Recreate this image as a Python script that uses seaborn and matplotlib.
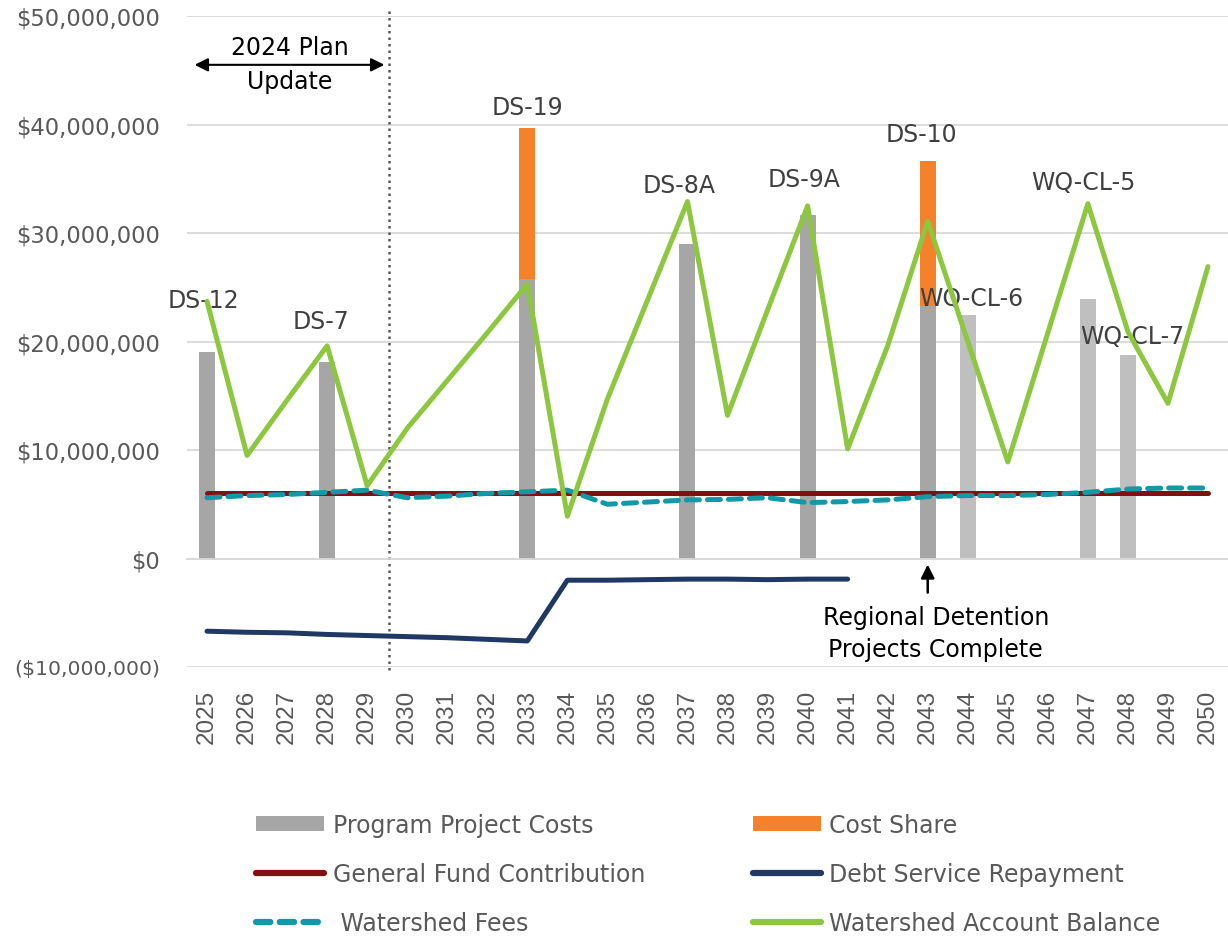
import matplotlib
matplotlib.use("Agg")
import matplotlib.pyplot as plt
from matplotlib.patches import Patch
from matplotlib.lines import Line2D
import numpy as np
import pandas as pd
import seaborn as sns

# ---- data ----
years = [str(y) for y in range(2025, 2051)]

project_costs = [19.0, 0, 0, 18.1, 0, 0, 0, 0, 25.8, 0, 0, 0, 29.0, 0, 0, 31.7, 0, 0,
                 23.3, 22.4, 0, 0, 23.9, 18.8, 0, 0]
cost_share = [0, 0, 0, 0, 0, 0, 0, 0, 13.9, 0, 0, 0, 0, 0, 0, 0, 0, 0,
              13.3, 0, 0, 0, 0, 0, 0, 0]
general_fund = [6.0] * 26
debt_service = [-6.7, -6.8, -6.85, -7.0, -7.1, -7.2, -7.3, -7.45, -7.6, -2.0, -2.0, -1.95,
                -1.9, -1.9, -1.95, -1.9, -1.9] + [np.nan] * 9
watershed_fees = [5.6, 5.8, 5.9, 6.1, 6.3, 5.6, 5.75, 6.0, 6.15, 6.3, 5.0, 5.2, 5.4, 5.45,
                  5.6, 5.15, 5.25, 5.4, 5.7, 5.8, 5.8, 5.9, 6.1, 6.4, 6.5, 6.5]
account_balance = [23.7, 9.5, 14.6, 19.6, 6.7, 12.0, 16.4, 20.8, 25.3, 3.9, 14.7, 23.8,
                   32.9, 13.2, 22.9, 32.5, 10.1, 19.6, 31.1, 20.0, 8.9, 20.8, 32.7, 20.9,
                   14.3, 26.9]
# later projects drawn in a lighter grey
light_bar = [False] * 19 + [True] * 7

project_labels = [("DS-12", -0.1, 23.8), ("DS-7", 2.85, 21.9), ("DS-19", 8.0, 41.6),
                  ("DS-8A", 11.8, 34.4), ("DS-9A", 14.9, 35.0), ("DS-10", 17.85, 39.1),
                  ("WQ-CL-6", 19.1, 24.0), ("WQ-CL-5", 21.9, 34.7), ("WQ-CL-7", 23.1, 20.5)]

y_ticks = [-10, 0, 10, 20, 30, 40, 50]

M = 1e6
df = pd.DataFrame({
    "year": years,
    "idx": np.arange(len(years)),
    "costs": np.array(project_costs) * M,
    "total": (np.array(project_costs) + np.array(cost_share)) * M,
    "general": np.array(general_fund) * M,
    "debt": np.array(debt_service) * M,
    "fees": np.array(watershed_fees) * M,
    "balance": np.array(account_balance) * M,
})

GREY_D = "#A6A6A6"
GREY_L = "#BFBFBF"
ORANGE = "#F5812A"
RED = "#821010"
NAVY = "#1F3864"
TEAL = "#1398A8"
GREEN = "#8DC63F"
TXT = "#595959"
FS = 17

sns.set_theme(style="white")
plt.rcParams["font.family"] = ["DejaVu Sans"]

fig = plt.figure(figsize=(12.28, 9.37), dpi=100)
ax = fig.add_axes([187 / 1228, 1 - 668 / 937, 1 - 187 / 1228, (668 - 17) / 937])

# bars: total (orange) first, grey project costs over it
sns.barplot(data=df, x="year", y="total", color=ORANGE, saturation=1, width=0.4,
            linewidth=0, ax=ax, zorder=2)
bar_pal = {y: (GREY_L if l else GREY_D) for y, l in zip(years, light_bar)}
sns.barplot(data=df, x="year", y="costs", hue="year", palette=bar_pal, legend=False,
            saturation=1, width=0.4, linewidth=0, dodge=False, ax=ax, zorder=2)

sns.lineplot(data=df, x="idx", y="general", color=RED, lw=3.6, ax=ax, zorder=3)
sns.lineplot(data=df, x="idx", y="debt", color=NAVY, lw=3.6, ax=ax, zorder=3)
sns.lineplot(data=df, x="idx", y="fees", color=TEAL, lw=3.6, ax=ax, zorder=4,
             linestyle=(0, (2.6, 1.6)), dash_capstyle="round")
sns.lineplot(data=df, x="idx", y="balance", color=GREEN, lw=3.6, ax=ax, zorder=5)

ax.set_xlim(-0.5, 25.5)
ax.set_ylim(-10 * M, 50 * M)
ax.set_xlabel("")
ax.set_ylabel("")

def money(v):
    if v < 0:
        return "(${:,.0f})".format(-v)
    return "${:,.0f}".format(v)

ax.set_yticks([v * M for v in y_ticks])
ylabs = ax.set_yticklabels([money(v * M) for v in y_ticks])
ax.tick_params(axis="y", length=0, pad=19.5, labelsize=16.3, labelcolor=TXT)
ylabs[0].set_fontsize(14.7)
ax.grid(axis="y", color="#D9D9D9", lw=1.3, zorder=0)
ax.set_axisbelow(True)

for s in ["top", "right", "left"]:
    ax.spines[s].set_visible(False)
ax.spines["bottom"].set_position(("data", 0))
ax.spines["bottom"].set_color("#D9D9D9")
ax.spines["bottom"].set_linewidth(1.3)

ax.set_xticks(range(len(years)))
ax.set_xticklabels(years, family="Liberation Sans")
ax.tick_params(axis="x", direction="out", length=6, width=1.2, color="#D9D9D9",
               labelrotation=90, pad=88, labelsize=17.5, labelcolor=TXT)
for t in ax.get_xticklabels():
    t.set_verticalalignment("top")

# project labels
for name, x, y in project_labels:
    ax.text(x, y * M, name, ha="center", va="center", fontsize=FS, color="#404040")

# plan update marker
ax.axvline(4.55, ymin=-0.005, ymax=1.01, color=TXT, ls=(0, (1, 1.6)), lw=1.8,
           clip_on=False, zorder=1)
ax.annotate("", xy=(-0.38, 45.5 * M), xytext=(4.5, 45.5 * M),
            arrowprops=dict(arrowstyle="<|-|>", color="black", lw=1.5, mutation_scale=20))
ax.text(2.07, 45.6 * M, "2024 Plan\nUpdate", ha="center", va="center", fontsize=FS,
        color="black", linespacing=1.55)

# regional detention marker
ax.annotate("", xy=(18, -0.3 * M), xytext=(18, -3.4 * M),
            arrowprops=dict(arrowstyle="-|>", color="black", lw=1.8, mutation_scale=20))
ax.text(18.2, -6.85 * M, "Regional Detention\nProjects Complete", ha="center", va="center",
        fontsize=FS, color="black", linespacing=1.4)

handles = [
    Patch(facecolor=GREY_D, edgecolor="none"),
    Line2D([], [], color=RED, lw=4.5, solid_capstyle="round"),
    Line2D([], [], color=TEAL, lw=4.5, linestyle=(0, (2.3, 1.5)), dash_capstyle="round"),
    Patch(facecolor=ORANGE, edgecolor="none"),
    Line2D([], [], color=NAVY, lw=4.5, solid_capstyle="round"),
    Line2D([], [], color=GREEN, lw=4.5, solid_capstyle="round"),
]
labels = ["Program Project Costs", "General Fund Contribution", " Watershed Fees",
          "Cost Share", "Debt Service Repayment", "Watershed Account Balance"]
leg = fig.legend(handles, labels, ncol=2, loc="upper left",
                 bbox_to_anchor=(256 / 1228, 1 - 814 / 937), frameon=False,
                 fontsize=FS, handlelength=2.9, handleheight=0.6, handletextpad=0.35,
                 labelspacing=1.05, columnspacing=4.55, borderpad=0, borderaxespad=0)
for t in leg.get_texts():
    t.set_color(TXT)

fig.savefig("out.png", dpi=100)
